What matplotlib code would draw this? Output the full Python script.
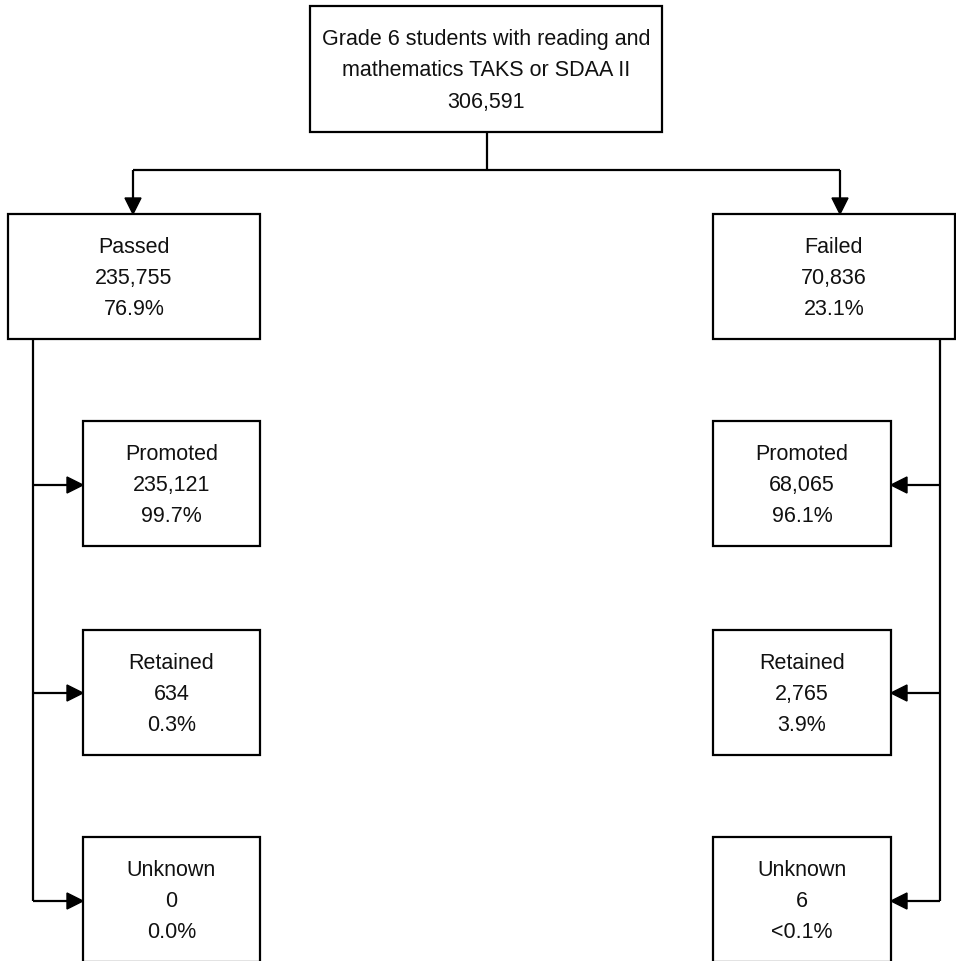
import matplotlib
matplotlib.use('Agg')
import matplotlib.pyplot as plt
from matplotlib.patches import Rectangle, Polygon

plt.rcParams['font.family'] = ['Liberation Sans', 'DejaVu Sans']

# data
top_label = 'Grade 6 students with reading and\nmathematics TAKS or SDAA II'
top_count = '306,591'
branch_names = ['Passed', 'Failed']
branch_counts = ['235,755', '70,836']
branch_pcts = ['76.9%', '23.1%']
outcome_names = ['Promoted', 'Retained', 'Unknown']
passed_counts = ['235,121', '634', '0']
passed_pcts = ['99.7%', '0.3%', '0.0%']
failed_counts = ['68,065', '2,765', '6']
failed_pcts = ['96.1%', '3.9%', '<0.1%']

W, H = 956, 961
fig = plt.figure(figsize=(W / 100, H / 100), dpi=100)
ax = fig.add_axes([0, 0, 1, 1])
ax.set_xlim(0, W)
ax.set_ylim(H, 0)
ax.axis('off')

LW = 1.6
FS = 15.5


def box(x0, y0, x1, y1, text):
    ax.add_patch(Rectangle((x0, y0), x1 - x0, y1 - y0, fill=False,
                           edgecolor='black', linewidth=LW))
    ax.text((x0 + x1) / 2, (y0 + y1) / 2 + 2, text, ha='center', va='center',
            fontsize=FS, linespacing=1.65, color='#111111')


def line(xs, ys):
    ax.plot(xs, ys, color='black', linewidth=LW, solid_capstyle='butt')


def head(tipx, tipy, direction):
    L, w = 16, 8
    if direction == 'down':
        pts = [(tipx, tipy), (tipx - w, tipy - L), (tipx + w, tipy - L)]
    elif direction == 'right':
        pts = [(tipx, tipy), (tipx - L, tipy - w), (tipx - L, tipy + w)]
    else:
        pts = [(tipx, tipy), (tipx + L, tipy - w), (tipx + L, tipy + w)]
    ax.add_patch(Polygon(pts, closed=True, facecolor='black', edgecolor='black'))


# top box
box(310, 6, 662, 132, top_label + '\n' + top_count)
line([487, 487], [132, 170])
line([133, 840], [170, 170])
line([133, 133], [170, 200])
line([840, 840], [170, 200])
head(133, 214, 'down')
head(840, 214, 'down')

# branch boxes
bx = [(8, 260), (713, 955)]
for i in range(2):
    box(bx[i][0], 214, bx[i][1], 339,
        branch_names[i] + '\n' + branch_counts[i] + '\n' + branch_pcts[i])

tops = [421, 630, 837]
arrow_y = [485, 693, 901]

# passed side
line([33, 33], [339, 901])
for k, name in enumerate(outcome_names):
    box(83, tops[k], 260, tops[k] + 125,
        name + '\n' + passed_counts[k] + '\n' + passed_pcts[k])
    line([33, 70], [arrow_y[k], arrow_y[k]])
    head(83, arrow_y[k], 'right')

# failed side
line([940, 940], [339, 901])
for k, name in enumerate(outcome_names):
    box(713, tops[k], 891, tops[k] + 125,
        name + '\n' + failed_counts[k] + '\n' + failed_pcts[k])
    line([904, 940], [arrow_y[k], arrow_y[k]])
    head(891, arrow_y[k], 'left')

fig.savefig('out.png', dpi=100)
